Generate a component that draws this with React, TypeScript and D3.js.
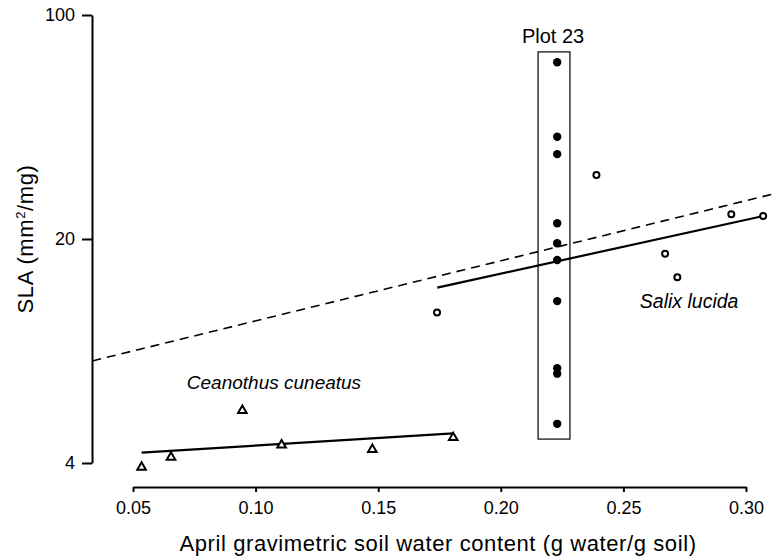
import { useEffect, useRef } from 'react';
import * as d3 from 'd3';

// tick values
const xTicks = [0.05, 0.1, 0.15, 0.2, 0.25, 0.3];
const yTicks = [4, 20, 100];

// Plot 23 (filled circles)
const plot23Water = 0.223;
const plot23SLA = [71.2, 41.7, 36.8, 22.4, 19.4, 17.2, 12.8, 7.9, 7.6, 5.3];

// Salix lucida (open circles)
const salixWater = [0.239, 0.294, 0.307, 0.267, 0.272, 0.174];
const salixSLA = [31.7, 23.9, 23.6, 18.0, 15.2, 11.8];

// Ceanothus cuneatus (open triangles)
const ceanothusWater = [0.0535, 0.0655, 0.0946, 0.1106, 0.1476, 0.1806];
const ceanothusSLA = [3.88, 4.17, 5.83, 4.55, 4.41, 4.8];

// regression lines [water, SLA]
const ceanothusFit: [number, number][] = [[0.0535, 4.31], [0.1806, 4.95]];
const salixFit: [number, number][] = [[0.1741, 14.1], [0.3071, 23.6]];
const pooledFit: [number, number][] = [[0.0334, 8.33], [0.3125, 27.8]];

// Plot 23 box extent
const boxWater = [0.2152, 0.2282];
const boxSLA = [4.75, 76.7];

const W = 777;
const H = 558;
const FONT = '"Liberation Sans", Arial, Helvetica, sans-serif';

const App: React.FC = () => {
  const svgRef = useRef<SVGSVGElement | null>(null);

  useEffect(() => {
    const svg = d3.select(svgRef.current);
    svg.selectAll('*').remove();

    const x = d3.scaleLinear().domain([0.05, 0.3]).range([133, 746]);
    const y = d3.scaleLog().domain([4, 100]).range([463, 15]);

    // axes
    const xAxis = svg.append('g')
      .attr('transform', 'translate(0, 487)')
      .call(d3.axisBottom(x).tickValues(xTicks).tickSize(5).tickSizeOuter(0).tickPadding(9)
        .tickFormat(d3.format('.2f')));
    const yAxis = svg.append('g')
      .attr('transform', 'translate(92, 0)')
      .call(d3.axisLeft(y).tickValues(yTicks).tickSize(10).tickSizeOuter(0).tickPadding(7)
        .tickFormat(d3.format('d')));

    [xAxis, yAxis].forEach((g) => {
      g.select('.domain').attr('stroke-width', 2);
      g.selectAll('.tick line').attr('stroke-width', 2);
      g.selectAll('.tick text')
        .attr('font-family', FONT)
        .attr('font-size', 18)
        .attr('fill', '#000');
    });

    // axis titles
    svg.append('text')
      .attr('x', 438)
      .attr('y', 551)
      .attr('text-anchor', 'middle')
      .attr('font-family', FONT)
      .attr('font-size', 22)
      .attr('letter-spacing', 0.6)
      .text('April gravimetric soil water content (g water/g soil)');

    const yTitle = svg.append('text')
      .attr('transform', `translate(33, ${y(20)}) rotate(-90)`)
      .attr('text-anchor', 'middle')
      .attr('font-family', FONT)
      .attr('font-size', 22)
      .attr('letter-spacing', 0.6);
    yTitle.append('tspan').text('SLA (mm');
    yTitle.append('tspan').attr('font-size', 13).attr('dy', -8).text('2');
    yTitle.append('tspan').attr('dy', 8).text('/mg)');

    // Plot 23 box
    svg.append('rect')
      .attr('x', x(boxWater[0]))
      .attr('y', y(boxSLA[1]))
      .attr('width', x(boxWater[1]) - x(boxWater[0]))
      .attr('height', y(boxSLA[0]) - y(boxSLA[1]))
      .attr('fill', 'none')
      .attr('stroke', '#000')
      .attr('stroke-width', 1.2);

    svg.append('text')
      .attr('x', (x(boxWater[0]) + x(boxWater[1])) / 2 - 1)
      .attr('y', 43)
      .attr('text-anchor', 'middle')
      .attr('font-family', FONT)
      .attr('font-size', 20)
      .text('Plot 23');

    // lines
    const line = d3.line<[number, number]>()
      .x((d) => x(d[0]))
      .y((d) => y(d[1]));

    svg.append('path')
      .attr('d', line(pooledFit))
      .attr('fill', 'none')
      .attr('stroke', '#000')
      .attr('stroke-width', 1.6)
      .attr('stroke-dasharray', '9,6');

    [ceanothusFit, salixFit].forEach((f) => {
      svg.append('path')
        .attr('d', line(f))
        .attr('fill', 'none')
        .attr('stroke', '#000')
        .attr('stroke-width', 2.2);
    });

    // points
    svg.append('g').selectAll('circle')
      .data(plot23SLA)
      .join('circle')
      .attr('cx', x(plot23Water))
      .attr('cy', (d) => y(d))
      .attr('r', 4.2)
      .attr('fill', '#000');

    svg.append('g').selectAll('circle')
      .data(d3.zip(salixWater, salixSLA))
      .join('circle')
      .attr('cx', (d) => x(d[0]))
      .attr('cy', (d) => y(d[1]))
      .attr('r', 3)
      .attr('fill', '#fff')
      .attr('stroke', '#000')
      .attr('stroke-width', 2);

    const tri = d3.symbol().type(d3.symbolTriangle).size(32);
    svg.append('g').selectAll('path')
      .data(d3.zip(ceanothusWater, ceanothusSLA))
      .join('path')
      .attr('transform', (d) => `translate(${x(d[0])}, ${y(d[1])})`)
      .attr('d', tri)
      .attr('fill', '#fff')
      .attr('stroke', '#000')
      .attr('stroke-width', 2);

    // species labels
    svg.append('text')
      .attr('x', x(0.1075))
      .attr('y', y(6.81))
      .attr('text-anchor', 'middle')
      .attr('font-family', FONT)
      .attr('font-style', 'italic')
      .attr('font-size', 19)
      .text('Ceanothus cuneatus');

    svg.append('text')
      .attr('x', x(0.2768))
      .attr('y', y(12.16))
      .attr('text-anchor', 'middle')
      .attr('font-family', FONT)
      .attr('font-style', 'italic')
      .attr('font-size', 19.5)
      .text('Salix lucida');
  }, []);

  return (
    <svg
      ref={svgRef}
      width={W}
      height={H}
      style={{ position: 'absolute', left: 0, top: 0, background: '#fff' }}
    />
  );
};

export default App;
